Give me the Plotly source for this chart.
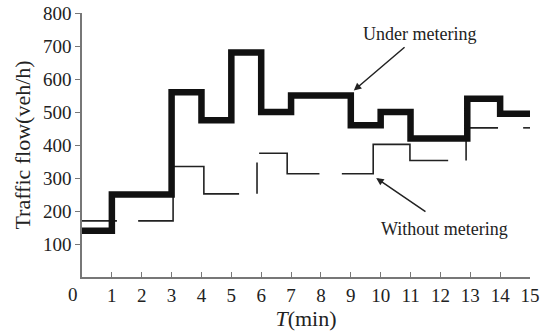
import plotly.graph_objects as go

# Under metering: step edges (min) and flow levels (veh/h)
under_t = [0, 1, 3, 4, 5, 6, 7, 9, 10, 11, 12.9, 14, 15]
under_v = [140, 250, 560, 475, 680, 500, 550, 460, 500, 420, 540, 495, 495]

# Without metering: broken step line (None = gap)
without_t = [0, 1.17, None, 1.88, 3.05, 4.08, 5.26, None, 5.86, 5.86, None,
             5.93, 6.87, 7.95, None, 8.7, 9.75, 10.98, 12.26, None,
             12.86, 12.86, 13.93, None, 14.77, 15]
without_v = [170, 170, None, 170, 335, 252, 252, None, 252, 347, None,
             375, 313, 313, None, 313, 402, 353, 353, None,
             353, 452, 452, None, 452, 452]

x_ticks = list(range(1, 16))
y_ticks = [100, 200, 300, 400, 500, 600, 700, 800]

FONT = "Liberation Serif"

fig = go.Figure()
fig.add_trace(go.Scatter(x=without_t, y=without_v, mode="lines",
                         line=dict(color="#222", width=1.6, shape="hv"),
                         connectgaps=False, showlegend=False))
fig.add_trace(go.Scatter(x=under_t, y=under_v, mode="lines",
                         line=dict(color="#111", width=6.5, shape="hv"),
                         showlegend=False))

fig.update_layout(
    width=545, height=335,
    margin=dict(l=82, r=15, t=13, b=58),
    paper_bgcolor="white", plot_bgcolor="white",
    font=dict(family=FONT, size=18, color="#222"),
    xaxis=dict(range=[0, 15], tickvals=x_ticks, ticks="inside", ticklen=5,
               tickcolor="#777", showline=True, linecolor="#777", linewidth=1.5,
               showgrid=False, zeroline=False, automargin=False,
               ticklabeloverflow="allow", tickfont=dict(size=19),
               title=dict(text="<i>T</i>(min)", standoff=1)),
    yaxis=dict(range=[0, 800], tickvals=y_ticks, ticks="outside", ticklen=5,
               tickcolor="#777", showline=True, linecolor="#777", linewidth=1.5,
               showgrid=False, zeroline=False, automargin=False,
               ticklabeloverflow="allow", tickfont=dict(size=19),
               title=dict(text="Traffic flow(veh/h)", standoff=6)),
)

fig.add_annotation(x=0, y=0, xref="x", yref="y", text="0", showarrow=False,
                   xshift=-9, yshift=-17, font=dict(size=19))
fig.add_annotation(x=9.1, y=565, xref="x", yref="y", ax=10.85, ay=700,
                   axref="x", ayref="y", text="", showarrow=True,
                   arrowhead=2, arrowsize=1, arrowwidth=1.5, arrowcolor="#222")
fig.add_annotation(x=11.3, y=735, xref="x", yref="y", text="Under metering",
                   showarrow=False, font=dict(size=18))
fig.add_annotation(x=9.85, y=300, xref="x", yref="y", ax=11.55, ay=195,
                   axref="x", ayref="y", text="", showarrow=True,
                   arrowhead=2, arrowsize=1, arrowwidth=1.5, arrowcolor="#222")
fig.add_annotation(x=12.15, y=146, xref="x", yref="y", text="Without metering",
                   showarrow=False, font=dict(size=18))

# remove the page's default 8px body margin so the figure fills the window
fig.write_html("out.html", config={"displayModeBar": False},
               post_script="document.body.style.margin='0px';")
